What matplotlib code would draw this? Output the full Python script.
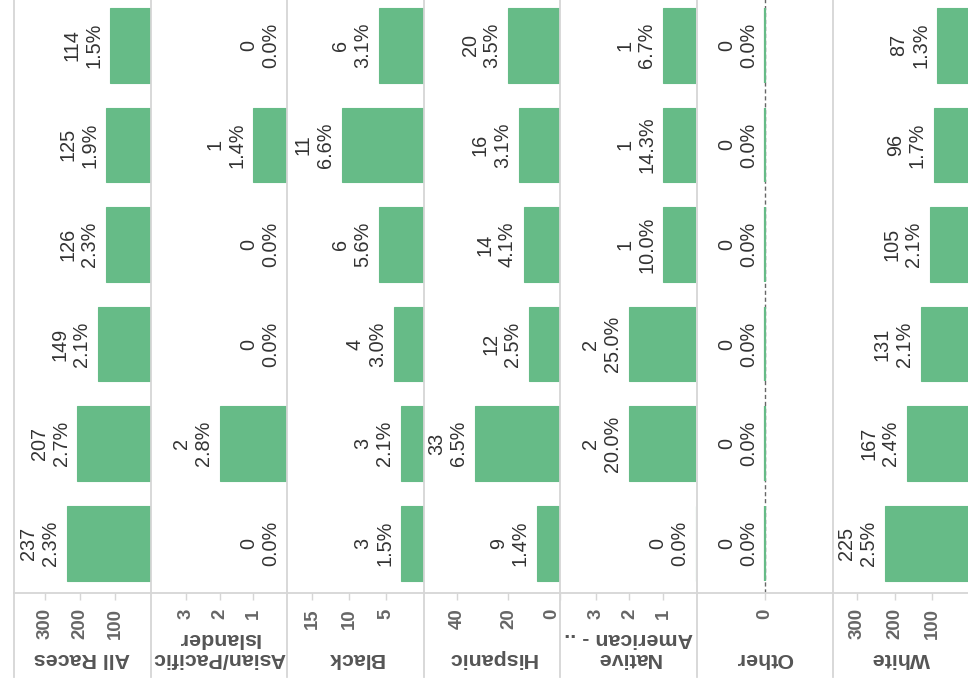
import matplotlib
matplotlib.use("Agg")
import matplotlib.pyplot as plt
from matplotlib.lines import Line2D

plt.rcParams["font.family"] = ["Liberation Sans", "DejaVu Sans"]

# panels (one per race), each with six yearly bars (first year at the bottom)
races = ["All Races", "Asian/Pacific\nIslander", "Black", "Hispanic",
         "Native\nAmerican - ..", "Other", "White"]
counts = [
    [237, 207, 149, 126, 125, 114],
    [0, 2, 0, 0, 1, 0],
    [3, 3, 4, 6, 11, 6],
    [9, 33, 12, 14, 16, 20],
    [0, 2, 2, 1, 1, 1],
    [0, 0, 0, 0, 0, 0],
    [225, 167, 131, 105, 96, 87],
]
pcts = [
    [2.3, 2.7, 2.1, 2.3, 1.9, 1.5],
    [0.0, 2.8, 0.0, 0.0, 1.4, 0.0],
    [1.5, 2.1, 3.0, 5.6, 6.6, 3.1],
    [1.4, 6.5, 2.5, 4.1, 3.1, 3.5],
    [0.0, 20.0, 25.0, 10.0, 14.3, 6.7],
    [0.0, 0.0, 0.0, 0.0, 0.0, 0.0],
    [2.5, 2.4, 2.1, 2.1, 1.7, 1.3],
]
axis_max = [387, 4.07, 18.4, 53, 4.07, 1.0, 365]
axis_ticks = [[100, 200, 300], [1, 2, 3], [5, 10, 15], [0, 20, 40],
              [1, 2, 3], [0], [100, 200, 300]]

W, H = 968, 689
BAR = "#66BB87"
GRID = "#d6d6d6"
LABEL = "#333333"
AXIS_TXT = "#666666"

fig = plt.figure(figsize=(W / 100, H / 100), dpi=100)

x0, pw = 14, 136.5      # pixel left edge / width of a panel
base_y, top_y = 593, -4.5

for i, race in enumerate(races):
    left = x0 + pw * i
    ax = fig.add_axes([left / W, (H - base_y) / H, pw / W, (base_y - top_y) / H])
    vals = counts[i]
    rows = range(len(vals))
    lw = 1.6 if race == "Other" else 0.8
    ax.barh(rows, vals, height=0.75, color=BAR, edgecolor=BAR, linewidth=lw, zorder=2)
    if race == "Other":
        ax.set_xlim(axis_max[i], -axis_max[i])
        ax.axvline(0, color="#666666", lw=1, ls=(0, (3, 2)), zorder=1)
    else:
        ax.set_xlim(axis_max[i], 0)
    ax.set_ylim(-0.5, len(vals) - 0.5)

    for r, (v, p) in zip(rows, zip(vals, pcts[i])):
        ax.annotate(f"{v}\n{p:.1f}%", xy=(v, r), xytext=(-5, 0), textcoords="offset points",
                    rotation=90, ha="right", va="center", multialignment="center",
                    fontsize=14.3, color=LABEL, linespacing=1.2)

    for s in ax.spines.values():
        s.set_visible(False)
    ax.set_yticks([])
    ax.set_xticks(axis_ticks[i])
    ax.set_xticklabels([str(t) for t in axis_ticks[i]], rotation=90,
                       fontsize=13.4, fontweight="bold", color=AXIS_TXT)
    ax.tick_params(axis="x", direction="out", length=5, width=1, color=GRID, pad=6)
    if race == "Hispanic":
        ax.get_xticklabels()[0].set_ha("right")
    ax.patch.set_alpha(0)

    fig.text((left + pw / 2) / W, (H - 668) / H, race, rotation=180,
             ha="center", va="bottom", multialignment="center",
             fontsize=15.4, fontweight="bold", color="#555555", linespacing=1.05)

# panel separators and the shared axis line
for i in range(len(races) + 1):
    xp = (x0 + pw * i) / W
    fig.add_artist(Line2D([xp, xp], [(H - 677) / H, 1], transform=fig.transFigure,
                          color=GRID, lw=1.3))
fig.add_artist(Line2D([x0 / W, 1], [(H - base_y) / H] * 2, transform=fig.transFigure,
                      color=GRID, lw=1.3))

fig.savefig("out.png", dpi=100, facecolor="white")
